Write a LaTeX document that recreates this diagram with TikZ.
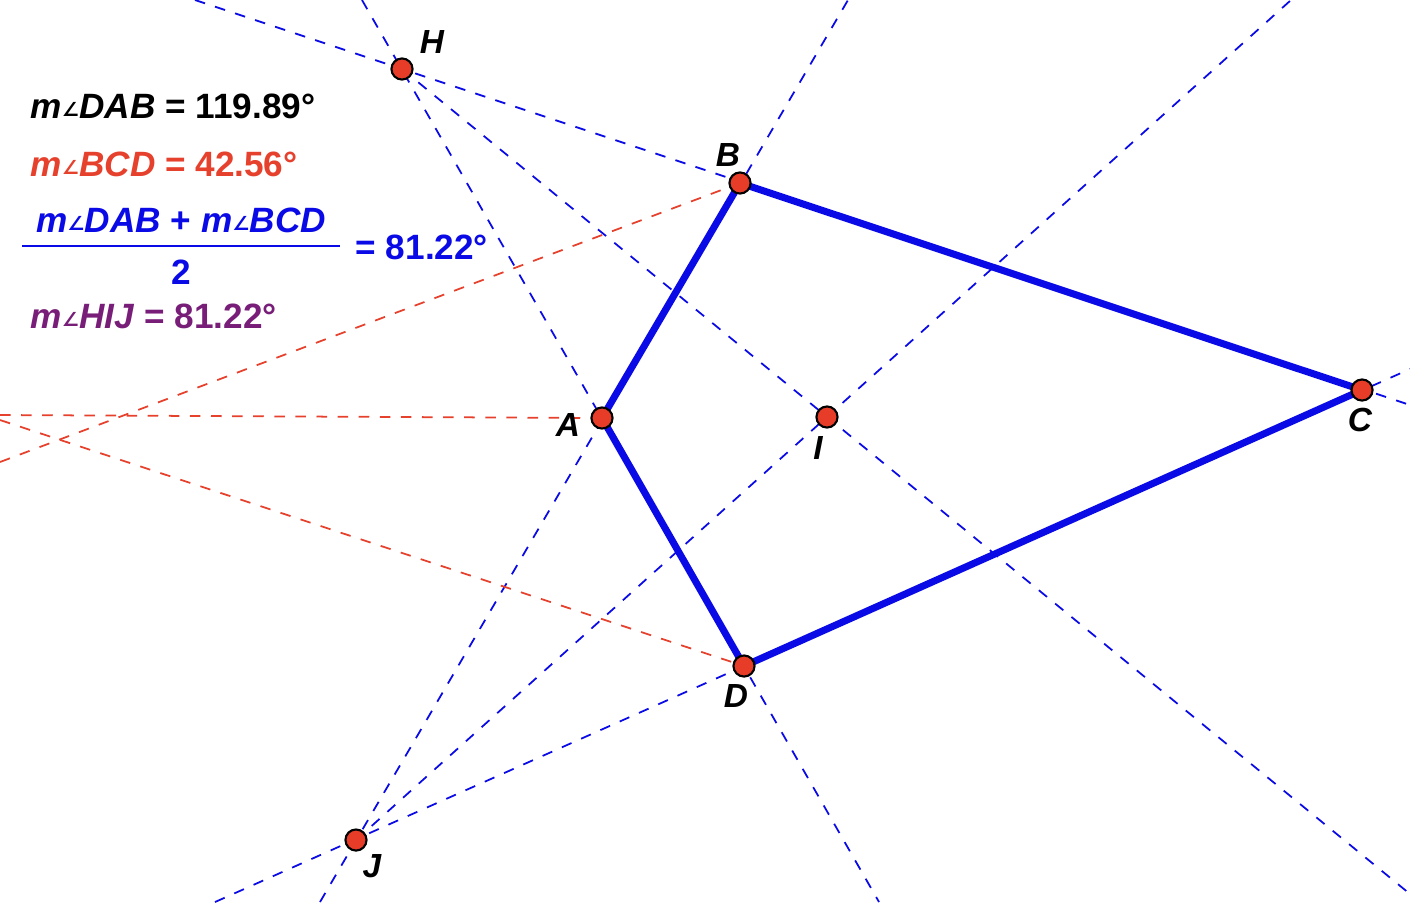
\documentclass[tikz,border=0pt]{standalone}
\usepackage{fontspec}
\setmainfont{Liberation Sans}
\newfontfamily\symfont{DejaVu Sans}
\definecolor{segblue}{RGB}{10,10,230}
\definecolor{dotred}{RGB}{230,60,40}
\definecolor{txtred}{RGB}{230,65,45}
\definecolor{txtpurple}{RGB}{120,30,120}
\newcommand{\ang}{{\symfont\fontsize{5.5pt}{6pt}\selectfont\raisebox{0.1ex}{∠}}}
\begin{document}
\begin{tikzpicture}[x=0.01cm,y=-0.01cm,
    guide/.style={dashed,segblue,line width=0.5pt},
    redguide/.style={dashed,txtred,line width=0.5pt},
    side/.style={segblue,line width=2pt},
    pt/.style={circle,draw=black,fill=dotred,inner sep=0pt,minimum size=6pt,line width=0.6pt},
    lbl/.style={font=\fontsize{9.5pt}{10pt}\selectfont\bfseries\itshape},
    meas/.style={font=\fontsize{10pt}{11pt}\selectfont\bfseries,anchor=base west,inner sep=0pt}
  ]
  \useasboundingbox (0,0) rectangle (1410,902);
  % points
  \coordinate (H) at (402,69);
  \coordinate (B) at (740,183);
  \coordinate (C) at (1362,390);
  \coordinate (A) at (602,418);
  \coordinate (I) at (827,417);
  \coordinate (D) at (744,666);
  \coordinate (J) at (356,840);
  % free ends of the guide lines
  \coordinate (h1) at (195,0);    \coordinate (h2) at (1410,405);
  \coordinate (h4) at (1410,894);
  \coordinate (h5) at (362,0);    \coordinate (h6) at (879,902);
  \coordinate (j1) at (320,902);  \coordinate (j2) at (848,0);
  \coordinate (j4) at (1291,0);
  \coordinate (j5) at (215,902);  \coordinate (j6) at (1410,369);
  \coordinate (r1) at (0,415);
  \coordinate (r2) at (0,462);
  \coordinate (r3) at (0,420);
  % guides
  \draw[guide] (h1) -- (h2);
  \draw[guide] (H) -- (h4);
  \draw[guide] (h5) -- (h6);
  \draw[guide] (j1) -- (j2);
  \draw[guide] (J) -- (j4);
  \draw[guide] (j5) -- (j6);
  \draw[redguide] (r1) -- (A);
  \draw[redguide] (r2) -- (B);
  \draw[redguide] (r3) -- (D);
  % quadrilateral
  \draw[side,line join=round] (A) -- (B) -- (C) -- (D) -- cycle;
  % dots
  \foreach \p in {H,B,C,A,I,D,J}
    \node[pt] (n\p) at (\p) {};
  \node[lbl] at (432,42) {H};
  \node[lbl] at (728,155) {B};
  \node[lbl] at (1360,420) {C};
  \node[lbl] at (568,425) {A};
  \node[lbl] at (818,448) {I};
  \node[lbl] at (736,696) {D};
  \node[lbl] at (372,866) {J};
  % measurements
  \node[meas] (mdab) at (30,118) {\textit{m}\ang\textit{DAB} = 119.89°};
  \node[meas,txtred] (mbcd) at (30,176) {\textit{m}\ang\textit{BCD} = 42.56°};
  \node[meas,segblue,anchor=base] (num) at (181,232) {\textit{m}\ang\textit{DAB} + \textit{m}\ang\textit{BCD}};
  \draw[segblue,line width=0.6pt] (22,246) -- (340,246);
  \node[meas,segblue,anchor=base] (den) at (181,284) {2};
  \node[meas,segblue] (res) at (355,259) {= 81.22°};
  \node[meas,txtpurple] (mhij) at (30,328) {\textit{m}\ang\textit{HIJ} = 81.22°};
\end{tikzpicture}
\end{document}
